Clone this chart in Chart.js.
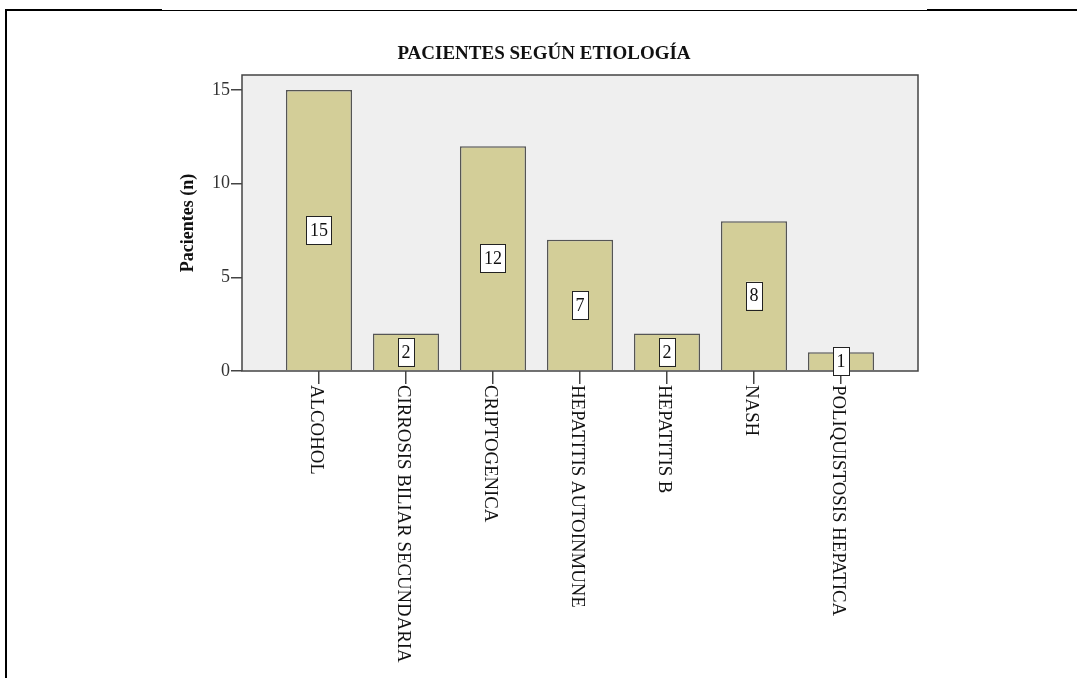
<!DOCTYPE html>
<html>
<head>
<meta charset="utf-8">
<style>
  html, body { margin: 0; padding: 0; background: #fff; }
  #grafico { display: block; }
</style>
<script src="https://cdn.jsdelivr.net/npm/chart.js"></script>
</head>
<body>
<canvas id="grafico" width="1077" height="678"></canvas>

<script>
// Datos del gráfico
const titulo = 'PACIENTES SEGÚN ETIOLOGÍA';
const tituloEjeY = 'Pacientes (n)';
const etiologias = [
    'ALCOHOL',
    'CIRROSIS BILIAR SECUNDARIA',
    'CRIPTOGENICA',
    'HEPATITIS AUTOINMUNE',
    'HEPATITIS B',
    'NASH',
    'POLIQUISTOSIS HEPATICA'
];
const pacientes = [15, 2, 12, 7, 2, 8, 1];
const ticksY = [0, 5, 10, 15];

const serif = '"Liberation Serif", "Times New Roman", serif';

// Fondo, marco de la página y caja del área de trazado
const fondoPlugin = {
    id: 'fondo',
    beforeDraw(chart) {
        const ctx = chart.ctx;
        const a = chart.chartArea;
        ctx.save();
        ctx.fillStyle = '#ffffff';
        ctx.fillRect(0, 0, chart.width, chart.height);

        // marco negro de la tabla
        ctx.fillStyle = '#000';
        ctx.fillRect(5, 9, 2, chart.height - 9);
        ctx.fillRect(5, 9, 157, 2);
        ctx.fillRect(162, 10, 765, 1);
        ctx.fillRect(927, 9, chart.width - 927, 2);

        ctx.fillStyle = '#efefef';
        ctx.fillRect(a.left, a.top, a.right - a.left, a.bottom - a.top);
        ctx.restore();
    },
    afterDatasetsDraw(chart) {
        const ctx = chart.ctx;
        const a = chart.chartArea;
        ctx.save();
        ctx.strokeStyle = '#444';
        ctx.lineWidth = 1.5;
        ctx.strokeRect(a.left, a.top, a.right - a.left, a.bottom - a.top);
        ctx.restore();
    },
    afterDraw(chart) {
        const ctx = chart.ctx;
        const xs = chart.scales.x;
        ctx.save();

        // título
        ctx.fillStyle = '#111';
        ctx.font = 'bold 19px ' + serif;
        ctx.textAlign = 'center';
        ctx.textBaseline = 'middle';
        ctx.fillText(titulo, 544, 54);

        // etiquetas de categoría, giradas (lectura de arriba abajo)
        ctx.font = '18.8px ' + serif;
        ctx.textAlign = 'left';
        ctx.textBaseline = 'alphabetic';
        etiologias.forEach((lab, i) => {
            const px = xs.getPixelForValue(i);
            ctx.save();
            ctx.translate(px - 7.7, xs.top + 14);
            ctx.rotate(Math.PI / 2);
            ctx.fillText(lab, 0, 0);
            ctx.restore();
        });

        // cajas con el valor en el centro de cada barra
        const meta = chart.getDatasetMeta(0);
        ctx.font = '18px ' + serif;
        ctx.textAlign = 'center';
        ctx.textBaseline = 'middle';
        meta.data.forEach((bar, i) => {
            const txt = String(pacientes[i]);
            const cy = (bar.y + bar.base) / 2;
            const w = ctx.measureText(txt).width + 7;
            const h = 28;
            ctx.fillStyle = '#fff';
            ctx.fillRect(bar.x - w / 2, cy - h / 2, w, h);
            ctx.strokeStyle = '#222';
            ctx.lineWidth = 1;
            ctx.strokeRect(Math.round(bar.x - w / 2) + 0.5, Math.round(cy - h / 2) + 0.5, Math.round(w), h);
            ctx.fillStyle = '#111';
            ctx.fillText(txt, bar.x, cy + 1);
        });
        ctx.restore();
    }
};

const ctx = document.getElementById('grafico').getContext('2d');
const chart = new Chart(ctx, {
    type: 'bar',
    data: {
        datasets: [{
            data: pacientes.map((v, i) => ({ x: i, y: v })),
            backgroundColor: '#d3ce98',
            borderColor: '#555',
            borderWidth: 1.5,
            barPercentage: 0.76,
            categoryPercentage: 1.0
        }]
    },
    options: {
        responsive: false,
        animation: false,
        layout: { padding: { left: 178, top: 75, right: 159, bottom: 0 } },
        plugins: {
            legend: { display: false },
            tooltip: { enabled: false }
        },
        scales: {
            x: {
                type: 'linear',
                offset: false,
                min: -0.885,
                max: 6.885,
                afterBuildTicks: s => { s.ticks = etiologias.map((_, i) => ({ value: i })); },
                afterFit: s => { s.height = 678 - 371; },
                ticks: { display: false },
                grid: { offset: false, drawOnChartArea: false, drawTicks: true, tickLength: 13, color: '#444', lineWidth: 1.5 },
                border: { display: false }
            },
            y: {
                min: 0,
                max: 15.8,
                afterBuildTicks: s => { s.ticks = ticksY.map(v => ({ value: v })); },
                afterFit: s => { s.width = 242 - 178; },
                ticks: {
                    color: '#333',
                    padding: 1,
                    font: { family: serif, size: 18 }
                },
                grid: { drawOnChartArea: false, drawTicks: true, tickLength: 11, color: '#444', lineWidth: 1.5 },
                border: { display: false },
                title: {
                    display: true,
                    text: tituloEjeY,
                    color: '#111',
                    padding: 0,
                    font: { family: serif, size: 18, weight: 'bold' }
                }
            }
        }
    },
    plugins: [fondoPlugin]
});
</script>
</body>
</html>
